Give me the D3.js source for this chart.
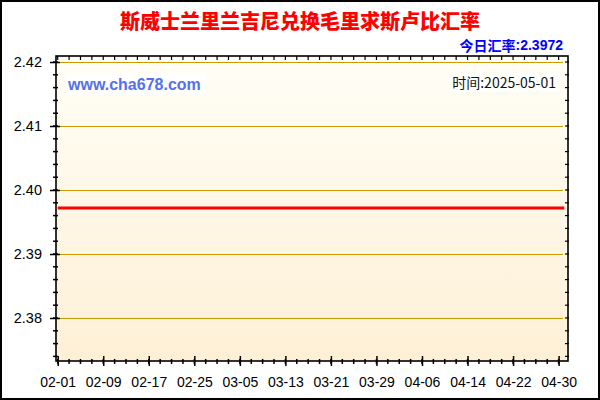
<!DOCTYPE html>
<html><head><meta charset="utf-8">
<script src="https://cdn.jsdelivr.net/npm/d3@7/dist/d3.min.js"></script>
<style>html,body{margin:0;padding:0;background:#fff;}svg{display:block;}</style>
</head><body>
<svg id="c" width="600" height="400"></svg>
<script>
const title = "斯威士兰里兰吉尼兑换毛里求斯卢比汇率";
const rateLabelCJK = "今日汇率";
const rateLabelNum = ":2.3972";
const timeLabel = "时间:2025-05-01";
const watermark = "www.cha678.com";
const dates = ["2025-02-01","2025-02-09","2025-02-17","2025-02-25","2025-03-05","2025-03-13","2025-03-21","2025-03-29","2025-04-06","2025-04-14","2025-04-22","2025-04-30","2025-05-01"];
const values = [2.3972,2.3972,2.3972,2.3972,2.3972,2.3972,2.3972,2.3972,2.3972,2.3972,2.3972,2.3972,2.3972];
const xTickLabels = ["02-01","02-09","02-17","02-25","03-05","03-13","03-21","03-29","04-06","04-14","04-22","04-30"];
const yTicks = [2.38,2.39,2.40,2.41,2.42];

const svg = d3.select("#c");
const parse = d3.utcParse("%Y-%m-%d");
const data = dates.map((d,i)=>({date:parse(d), value:values[i]}));
const L=56, R=568, T=56, B=361;
const day = 86400000;
const d0 = parse("2025-02-01");
const x = d3.scaleUtc().domain([new Date(+d0 - 0.3*day), new Date(+d0 + 89.65*day)]).range([L,R]);
const y = d3.scaleLinear().domain([2.37328, 2.42094]).range([B,T]);

// outer border
svg.append("rect").attr("x",1).attr("y",1).attr("width",598).attr("height",398)
  .attr("fill","#fff").attr("stroke","#000").attr("stroke-width",2);

const defs = svg.append("defs");
const g = defs.append("linearGradient").attr("id","bg").attr("x1",0).attr("y1",0).attr("x2",0).attr("y2",1);
g.append("stop").attr("offset","0%").attr("stop-color","#FFFEF6");
g.append("stop").attr("offset","100%").attr("stop-color","#FEF0D6");
svg.append("rect").attr("x",L).attr("y",T).attr("width",R-L).attr("height",B-T).attr("fill","url(#bg)");

// gridlines
svg.append("g").selectAll("line").data(yTicks).join("line")
  .attr("x1",L).attr("x2",563).attr("y1",d=>Math.round(y(d))+0.5).attr("y2",d=>Math.round(y(d))+0.5)
  .attr("stroke","#C99A06").attr("stroke-width",1.2);

// watermark and time
svg.append("rect").attr("x",66).attr("y",73).attr("width",139).attr("height",22).attr("fill","#fff").attr("opacity",0.85);
svg.append("text").attr("x",68).attr("y",84).attr("dominant-baseline","central")
  .attr("font-family","Liberation Sans, Arial, sans-serif").attr("font-weight","bold").attr("font-size",16)
  .attr("fill","#5470F0").text(watermark);
svg.append("rect").attr("x",451).attr("y",73).attr("width",108).attr("height",19).attr("fill","#fff").attr("opacity",0.85);
svg.append("text").attr("x",556).attr("y",82).attr("text-anchor","end").attr("dominant-baseline","central")
  .attr("font-family","Noto Sans CJK SC, sans-serif").attr("font-size",14).attr("fill","#111").text(timeLabel);

// red line
svg.append("path").datum(data)
  .attr("d", d3.line().x(d=>x(d.date)).y(d=>y(d.value)))
  .attr("fill","none").attr("stroke","#FF0000").attr("stroke-width",3);

// frame
svg.append("rect").attr("x",L).attr("y",T).attr("width",R-L).attr("height",B-T)
  .attr("fill","none").attr("stroke","#000").attr("stroke-width",1.6);

// y axis (left) with major & minor ticks
const yMinor = d3.range(2.374, 2.4205, 0.002);
const fmtY = d3.format(".2f");
const yAxisL = d3.axisLeft(y).tickValues(yTicks).tickFormat(fmtY).tickSize(6).tickPadding(8);
const gl = svg.append("g").attr("transform",`translate(${L},0)`).call(yAxisL);
gl.select(".domain").remove();
gl.selectAll(".tick line").attr("x2",-6).attr("x1",4).attr("stroke","#000").attr("stroke-width",1.5);
gl.selectAll(".tick text").attr("font-family","Liberation Sans, Arial, sans-serif").attr("font-size",14.5).attr("fill","#000").attr("x",-14);
svg.append("g").selectAll("line").data(yMinor).join("line")
  .attr("x1",L-3).attr("x2",L+2).attr("y1",d=>y(d)).attr("y2",d=>y(d)).attr("stroke","#000").attr("stroke-width",1.5);
// right ticks
svg.append("g").selectAll("line").data(yMinor).join("line")
  .attr("x1",R-3).attr("x2",R+1).attr("y1",d=>y(d)).attr("y2",d=>y(d)).attr("stroke","#000").attr("stroke-width",1.2);

// x axis
const xMajor = xTickLabels.map(s=>parse("2025-"+s));
const xMinor = d3.range(0, 91, 2).map(i=>new Date(+d0 + i*day)).filter(d=>x(d)<=R);
const xAxis = d3.axisBottom(x).tickValues(xMajor).tickFormat((d,i)=>xTickLabels[i]).tickSize(6).tickPadding(10);
const gb = svg.append("g").attr("transform",`translate(0,${B})`).call(xAxis);
gb.select(".domain").remove();
gb.selectAll(".tick line").attr("y1",-5).attr("y2",5).attr("stroke","#000").attr("stroke-width",1.5);
gb.selectAll(".tick text").attr("font-family","Liberation Sans, Arial, sans-serif").attr("font-size",14).attr("fill","#000");
svg.append("g").selectAll("line").data(xMinor).join("line")
  .attr("x1",d=>x(d)).attr("x2",d=>x(d)).attr("y1",B-2).attr("y2",B+3).attr("stroke","#000").attr("stroke-width",1.5);
// top ticks
svg.append("g").selectAll("line").data(xMinor).join("line")
  .attr("x1",d=>x(d)).attr("x2",d=>x(d)).attr("y1",T).attr("y2",T+4).attr("stroke","#000").attr("stroke-width",1.2);

// titles
svg.append("text").attr("x",300).attr("y",20).attr("text-anchor","middle").attr("dominant-baseline","central")
  .attr("font-family","Noto Sans CJK SC, sans-serif").attr("font-weight","900").attr("font-size",20)
  .attr("fill","#FF0000").text(title);
const rt = svg.append("text").attr("x",563).attr("y",45).attr("text-anchor","end").attr("dominant-baseline","central")
  .attr("font-weight","bold").attr("font-size",14).attr("fill","#0000FF");
rt.append("tspan").attr("font-family","Noto Sans CJK SC, sans-serif").text(rateLabelCJK);
rt.append("tspan").attr("font-family","Liberation Sans, Arial, sans-serif").text(rateLabelNum);
</script>
</body></html>
